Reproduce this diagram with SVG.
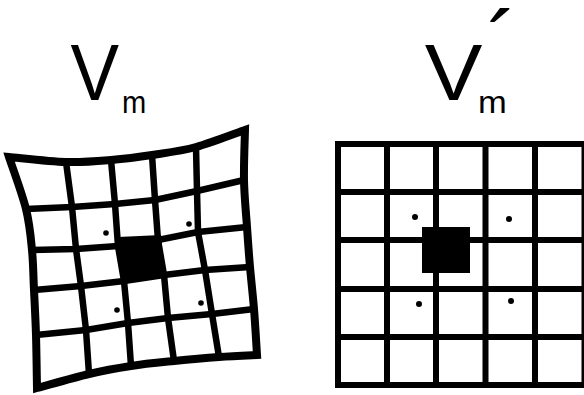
<svg xmlns="http://www.w3.org/2000/svg" width="584" height="395" viewBox="0 0 584 395">
<style>
.lbl{font-family:"Liberation Sans",Arial,sans-serif;fill:#000}
.g{fill:none;stroke:#000;stroke-width:6.5;stroke-linejoin:round;stroke-linecap:butt}
.edge{fill:#fff;stroke:#000;stroke-width:8;stroke-linejoin:miter}
.rg{fill:none;stroke:#000;stroke-width:6}
.dot{fill:#000}
</style>
<rect width="584" height="395" fill="#fff"/>
<g id="label-vm">
<text class="lbl" transform="translate(70.4,100) scale(0.91,1)"><tspan font-size="80">V</tspan><tspan font-size="32" x="56.7" y="13">m</tspan></text>
</g>
<g id="label-vm-prime">
<text class="lbl" transform="translate(424.7,100) scale(1.08,1)"><tspan font-size="80">V</tspan><tspan font-size="32" x="49.4" y="13">m</tspan></text>
<text class="lbl" font-size="92" x="487" y="77">´</text>
</g>
<g id="grid-warped">
<path class="edge" d="M9,157C18.5,157.8 49,161.5 66,162C83,162.5 96.7,161.2 111,160C125.3,158.8 137.8,157.2 152,155C166.2,152.8 180.5,151.2 196,147C211.5,142.8 236.8,132.8 245,130
C244.8,138.3 243.7,163.8 244,180C244.3,196.2 246,212.5 247,227C248,241.5 248.8,253.3 250,267C251.2,280.7 252.8,294.3 254,309C255.2,323.7 256.5,347.3 257,355
C250.7,355.3 232.8,356 219,357C205.2,358 188.7,359.5 174,361C159.3,362.5 145.2,363.8 131,366C116.8,368.2 104.7,370.3 89,374C73.3,377.7 45.7,385.7 37,388
C36.8,379.2 36.5,351.3 36,335C35.5,318.7 34.7,304.2 34,290C33.3,275.8 33.3,263.5 32,250C30.7,236.5 29.8,224.5 26,209C22.2,193.5 11.8,165.7 9,157Z"/>
<polygon fill="#000" points="118,237 161,235 164,276 122,281"/>
<polyline class="g" points="26,209 72,207 115,204 155,200 197,191 244,180"/>
<polyline class="g" points="32,250 76,249 118,246 158,240 198,232 247,227"/>
<polyline class="g" points="34,290 81,286 124,281 164,275 205,270 250,267"/>
<polyline class="g" points="36,335 86,330 128,323 168,318 212,314 254,309"/>
<polyline class="g" points="66,162 72,207 76,249 81,286 86,330 89,374"/>
<polyline class="g" points="111,160 115,204 118,246 124,281 128,323 131,366"/>
<polyline class="g" points="152,155 155,200 158,240 164,275 168,318 174,361"/>
<polyline class="g" points="196,147 197,191 198,232 205,270 212,314 219,357"/>
<circle class="dot" cx="106" cy="233" r="2.8"/>
<circle class="dot" cx="189" cy="224" r="2.8"/>
<circle class="dot" cx="117" cy="310" r="2.8"/>
<circle class="dot" cx="201" cy="303" r="2.8"/>
</g>
<g id="grid-regular">
<rect x="338" y="144" width="246.5" height="241" fill="#fff" stroke="#000" stroke-width="6"/>
<path class="rg" d="M387,144V385M436,144V385M485.5,144V385M535,144V385M338,192H585M338,240H585M338,289H585M338,337H585"/>
<rect x="422" y="227" width="48" height="46" fill="#000"/>
<circle class="dot" cx="415" cy="217" r="3"/>
<circle class="dot" cx="509" cy="219" r="3"/>
<circle class="dot" cx="419" cy="304" r="3"/>
<circle class="dot" cx="511" cy="301" r="3"/>
</g>
</svg>
